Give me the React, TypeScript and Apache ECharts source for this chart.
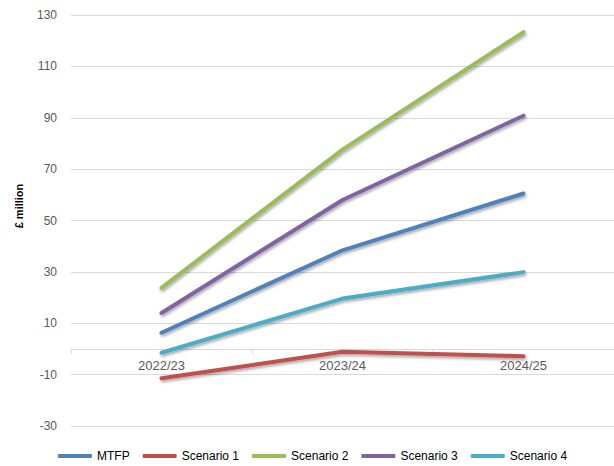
import React, { useEffect, useRef } from "react";
import * as echarts from "echarts";

const years = ["2022/23", "2023/24", "2024/25"];
const mtfp = [6.3, 38.4, 60.5];
const scenario1 = [-11.4, -1.1, -2.8];
const scenario2 = [23.8, 77.6, 123.3];
const scenario3 = [14.0, 58.0, 90.8];
const scenario4 = [-1.5, 19.6, 29.9];

const seriesDefs = [
  { name: "MTFP", data: mtfp, color: "#4F81BD" },
  { name: "Scenario 1", data: scenario1, color: "#C0504D" },
  { name: "Scenario 2", data: scenario2, color: "#9BBB59" },
  { name: "Scenario 3", data: scenario3, color: "#8064A2" },
  { name: "Scenario 4", data: scenario4, color: "#4BACC6" },
];

const FONT = "'Liberation Sans', Arial, sans-serif";

// Plot area bounds and value range, used to sit the category axis on the zero line
const GRID_TOP = 15;
const GRID_BOTTOM = 40;
const CHART_H = 466;
const Y_MIN = -30;
const Y_MAX = 130;

export default function App() {
  const ref = useRef<HTMLDivElement>(null);

  useEffect(() => {
    if (!ref.current) return;
    const chart = echarts.init(ref.current, null, { renderer: "svg" });
    const plotH = CHART_H - GRID_TOP - GRID_BOTTOM;
    const zeroFromBottom = ((0 - Y_MIN) / (Y_MAX - Y_MIN)) * plotH;
    chart.setOption({
      animation: false,
      backgroundColor: "#ffffff",
      textStyle: { fontFamily: FONT },
      grid: { left: 71, right: 0, top: GRID_TOP, bottom: GRID_BOTTOM, containLabel: false },
      legend: {
        left: 58,
        top: 450,
        padding: 0,
        itemWidth: 34,
        itemHeight: 4,
        itemGap: 13,
        icon: "roundRect",
        textStyle: { color: "#000000", fontSize: 12, fontFamily: FONT },
        data: seriesDefs.map((s) => s.name),
      },
      xAxis: {
        type: "category",
        data: years,
        boundaryGap: true,
        position: "bottom",
        offset: -zeroFromBottom,
        axisLine: { onZero: false, lineStyle: { color: "#D9D9D9", width: 1 } },
        axisTick: { show: true, length: 5, lineStyle: { color: "#D9D9D9" } },
        axisLabel: { color: "#595959", fontSize: 13, margin: 10, fontFamily: FONT },
        splitLine: { show: false },
      },
      yAxis: {
        type: "value",
        min: Y_MIN,
        max: Y_MAX,
        interval: 20,
        axisLine: { show: false },
        axisTick: { show: false },
        axisLabel: { color: "#595959", fontSize: 12, margin: 14, fontFamily: FONT },
        splitLine: { lineStyle: { color: "#D9D9D9", width: 1 } },
      },
      graphic: [
        {
          type: "text",
          x: 19,
          y: 206,
          rotation: Math.PI / 2,
          style: {
            text: "£ million",
            fill: "#000000",
            font: `bold 11px ${FONT}`,
            align: "center",
            verticalAlign: "middle",
          },
        },
      ],
      series: seriesDefs.map((s) => ({
        name: s.name,
        type: "line",
        data: s.data,
        symbol: "none",
        color: s.color,
        lineStyle: {
          color: s.color,
          width: 4,
          cap: "round",
          join: "round",
          shadowColor: "rgba(0,0,0,0.35)",
          shadowBlur: 3,
          shadowOffsetX: 1,
          shadowOffsetY: 2,
        },
      })),
    });
    return () => chart.dispose();
  }, []);

  return (
    <div
      ref={ref}
      style={{ position: "fixed", left: 0, top: 0, width: 614, height: CHART_H }}
    />
  );
}
